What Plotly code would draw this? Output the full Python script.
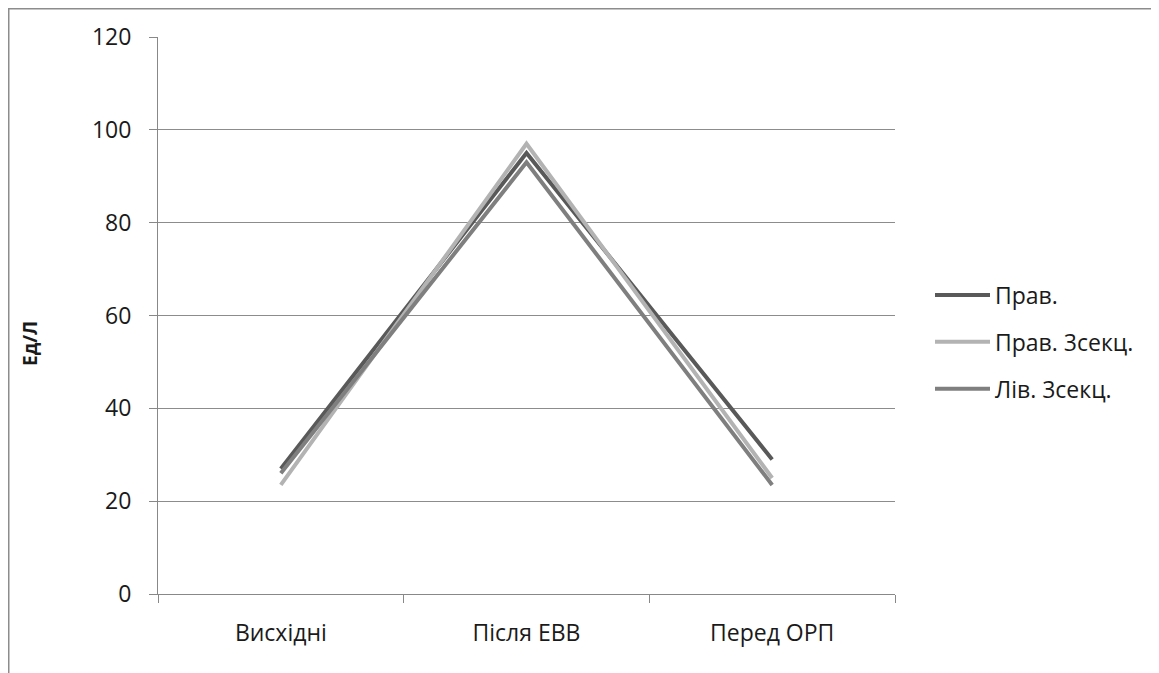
import plotly.graph_objects as go

categories = ["Висхідні", "Після ЕВВ", "Перед ОРП"]
prav = [27, 95, 29]
prav_3sekc = [23.5, 97, 25]
liv_3sekc = [26, 93, 23.5]

series = [
    ("Прав.", prav, "#595959"),
    ("Прав. 3секц.", prav_3sekc, "#b3b3b3"),
    ("Лів. 3секц.", liv_3sekc, "#7f7f7f"),
]

fig = go.Figure()
for i, (name, vals, color) in enumerate(series):
    fig.add_trace(go.Scatter(x=categories, y=vals, name=name, mode="lines",
                             legendgroup=f"g{i}",
                             line=dict(color=color, width=4)))

W, H = 1159, 673
OFF = 8  # page body offset
L, R, T, B = 158 - OFF, 895 - OFF, 37 - OFF, 594 - OFF
pw, ph = R - L, B - T

def px(x):
    return (x - OFF - L) / pw

def py(y):
    return (B - (y - OFF)) / ph

FONT = "Open Sans, Noto Sans, sans-serif"
fig.update_layout(
    width=W, height=H,
    margin=dict(l=L, r=W - R, t=T, b=H - B, autoexpand=False),
    paper_bgcolor="white", plot_bgcolor="white",
    font=dict(family=FONT, size=23, color="#1a1a1a"),
    legend=dict(x=px(930), y=py(342), xanchor="left", yanchor="middle",
                font=dict(size=23), tracegroupgap=14, itemwidth=55),
    showlegend=True,
    xaxis=dict(type="category", showgrid=False, showline=True, linecolor="#888",
               linewidth=1, ticks="outside", tickson="boundaries", ticklen=8,
               tickcolor="#888", range=[-0.5, 2.5], fixedrange=True,
               ticklabelstandoff=18, automargin=False),
    yaxis=dict(range=[0, 120], dtick=20, showgrid=True, gridcolor="#8c8c8c",
               gridwidth=1, showline=True, linecolor="#888", linewidth=1,
               ticks="outside", ticklen=8, tickcolor="#888", zeroline=False,
               ticklabelstandoff=13, automargin=False),
)

fig.add_annotation(text="<b>Ед/Л</b>", xref="paper", yref="paper",
                   x=px(30), y=py(344), textangle=-90, showarrow=False,
                   xanchor="center", yanchor="middle",
                   font=dict(size=19, family=FONT, color="#1a1a1a"))

fig.add_shape(type="path", xref="paper", yref="paper",
              path=f"M {px(8.5)} {py(H + 10)} L {px(8.5)} {py(8.5)} L {px(W + 10)} {py(8.5)}",
              line=dict(color="#8c8c8c", width=2))

fig.write_html("out.html")
